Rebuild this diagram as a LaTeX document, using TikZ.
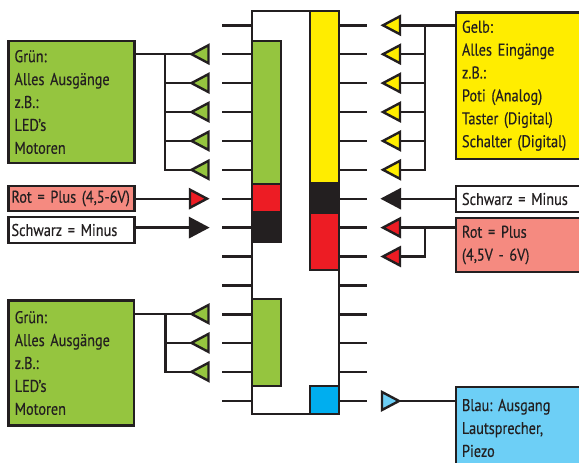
\documentclass[tikz,border=0pt]{standalone}
\usepackage{fontspec}
\setmainfont[FakeStretch=0.84,FakeBold=0.35,WordSpace=0.75]{PT Sans}
\usetikzlibrary{shapes.geometric}
\frenchspacing
\definecolor{cgreen}{HTML}{95C53F}
\definecolor{cyellow}{HTML}{FFED00}
\definecolor{cred}{HTML}{ED1C24}
\definecolor{cblack}{HTML}{231F20}
\definecolor{cblue}{HTML}{00AEEF}
\definecolor{clblue}{HTML}{6DCFF6}
\definecolor{csalmon}{HTML}{F58A80}
\tikzset{
  wire/.style={draw=cblack,line width=2.4pt},
  seg/.style={draw=cblack,line width=2.4pt,inner sep=0,outer sep=0,anchor=north west},
  lbl/.style={draw=cblack,line width=2.6pt,inner sep=0,outer sep=0,anchor=north west,align=left,font=\fontsize{17}{22.9}\selectfont,text=cblack},
  tri/.style={draw=cblack,line width=2.4pt,isosceles triangle,isosceles triangle stretches,inner sep=0,outer sep=0,minimum width=18pt,minimum height=17pt,anchor=apex},
  tl/.style={tri,shape border rotate=180},
  tr/.style={tri,shape border rotate=0},
}
\begin{document}
\begin{tikzpicture}[x=1pt,y=-1pt]
\useasboundingbox (0,0) rectangle (579,463);
\clip (0,0) rectangle (579,463);
% pin coordinates
\foreach \i in {0,...,13}{
  \pgfmathsetmacro{\py}{25.3+28.9*\i}
  \coordinate (la\i) at (222,\py);
  \coordinate (lb\i) at (252,\py);
  \coordinate (ra\i) at (339,\py);
  \coordinate (rb\i) at (367,\py);
}
% chip
\node[seg,fill=white,minimum width=87pt,minimum height=403pt] (chip) at (252,11) {};
\node[seg,fill=cgreen,minimum width=29pt,minimum height=143pt] (g1) at (252,41) {};
\node[seg,fill=cred,minimum width=29pt,minimum height=28pt] (r1) at (252,184) {};
\node[seg,fill=cblack,minimum width=29pt,minimum height=30pt] (k1) at (252,212) {};
\node[seg,fill=cyellow,minimum width=29pt,minimum height=172pt] (y1) at (310,11) {};
\node[seg,fill=cblack,minimum width=29pt,minimum height=30pt] (k2) at (310,183) {};
\node[seg,fill=cred,minimum width=29pt,minimum height=57pt] (r2) at (310,213) {};
\node[seg,fill=cgreen,minimum width=29pt,minimum height=87pt] (g2) at (252,299) {};
\node[seg,fill=cblue,minimum width=29pt,minimum height=28pt] (b1) at (310,386) {};
% pins
\foreach \i in {0,...,13}{
  \draw[wire] (la\i) -- (lb\i);
  \draw[wire] (ra\i) -- (rb\i);
}
% label boxes
\node[lbl,fill=cgreen,minimum width=126pt,minimum height=122pt,text width=114pt] (bg1) at (8.5,41) {Grün:\\Alles Ausgänge\\z.B.:\\LED's\\Motoren};
\node[lbl,fill=csalmon,minimum width=126pt,minimum height=25pt,text width=120pt] (brl) at (8.5,186) {Rot = Plus (4,5-6V)};
\node[lbl,fill=white,minimum width=126pt,minimum height=26pt,text width=120pt] (bkl) at (8.5,217) {Schwarz = Minus};
\node[lbl,fill=cgreen,minimum width=125.5pt,minimum height=125pt,text width=113pt] (bg2) at (8.5,300.5) {Grün:\\Alles Ausgänge\\z.B.:\\LED's\\Motoren};
\node[lbl,fill=cyellow,minimum width=130pt,minimum height=146.5pt,text width=118pt] (byl) at (456,12.5) {Gelb:\\Alles Eingänge\\z.B.:\\Poti (Analog)\\Taster (Digital)\\Schalter (Digital)};
\node[lbl,fill=white,minimum width=130pt,minimum height=26pt,text width=118pt] (bkr) at (456,186) {Schwarz = Minus};
\node[lbl,fill=csalmon,minimum width=130pt,minimum height=54pt,text width=118pt] (brr) at (456,218) {Rot = Plus\\(4,5V - 6V)};
\node[lbl,fill=clblue,minimum width=130pt,minimum height=82pt,text width=118pt] (bbl) at (456,387) {Blau: Ausgang\\Lautsprecher,\\Piezo};
% left-side triangles
\foreach \i/\y in {0/54.2,1/83.1,2/112,3/140.9,4/169.8}
  \node[tl,fill=cgreen] (tg\i) at (191.5,\y) {};
\foreach \i/\y in {0/314,1/342.9,2/371.8}
  \node[tl,fill=cgreen] (th\i) at (191.5,\y) {};
\node[tr,fill=cred] (trl) at (207,198.7) {};
\node[tr,fill=cblack] (tkl) at (207,227.6) {};
% right-side triangles
\foreach \i/\y in {0/25.3,1/54.2,2/83.1,3/112,4/140.9,5/169.8}
  \node[tl,fill=cyellow] (ty\i) at (383,\y) {};
\node[tl,fill=cblack] (tkr) at (383,198.7) {};
\node[tl,fill=cred] (tr0) at (383,227.6) {};
\node[tl,fill=cred] (tr1) at (383,256.5) {};
\node[tr,fill=clblue] (tb) at (399,401) {};
% connectors
\coordinate (busg) at (165,54);
\draw[wire] (bg1.east |- tg0.apex) -- (tg0.apex);
\draw[wire] (busg |- tg0.apex) -- (busg |- tg4.apex) -- (tg4.apex);
\foreach \i in {1,2,3} \draw[wire] (busg |- tg\i.apex) -- (tg\i.apex);
\coordinate (bush) at (165.5,314);
\draw[wire] (bg2.east |- th0.apex) -- (th0.apex);
\draw[wire] (bush |- th0.apex) -- (bush |- th2.apex) -- (th2.apex);
\draw[wire] (bush |- th1.apex) -- (th1.apex);
\draw[wire] (brl.east |- trl.west) -- (trl.west);
\draw[wire] (bkl.east |- tkl.west) -- (tkl.west);
\coordinate (busy) at (425,25);
\draw[wire] (byl.west |- ty0.east) -- (ty0.east);
\draw[wire] (busy |- ty0.east) -- (busy |- ty5.east) -- (ty5.east);
\foreach \i in {1,2,3,4} \draw[wire] (busy |- ty\i.east) -- (ty\i.east);
\draw[wire] (bkr.west |- tkr.east) -- (tkr.east);
\draw[wire] (brr.west |- tr0.east) -- (tr0.east);
\draw[wire] (busy |- tr0.east) -- (busy |- tr1.east) -- (tr1.east);
\draw[wire] (bbl.west |- tb.apex) -- (tb.apex);
\end{tikzpicture}
\end{document}
